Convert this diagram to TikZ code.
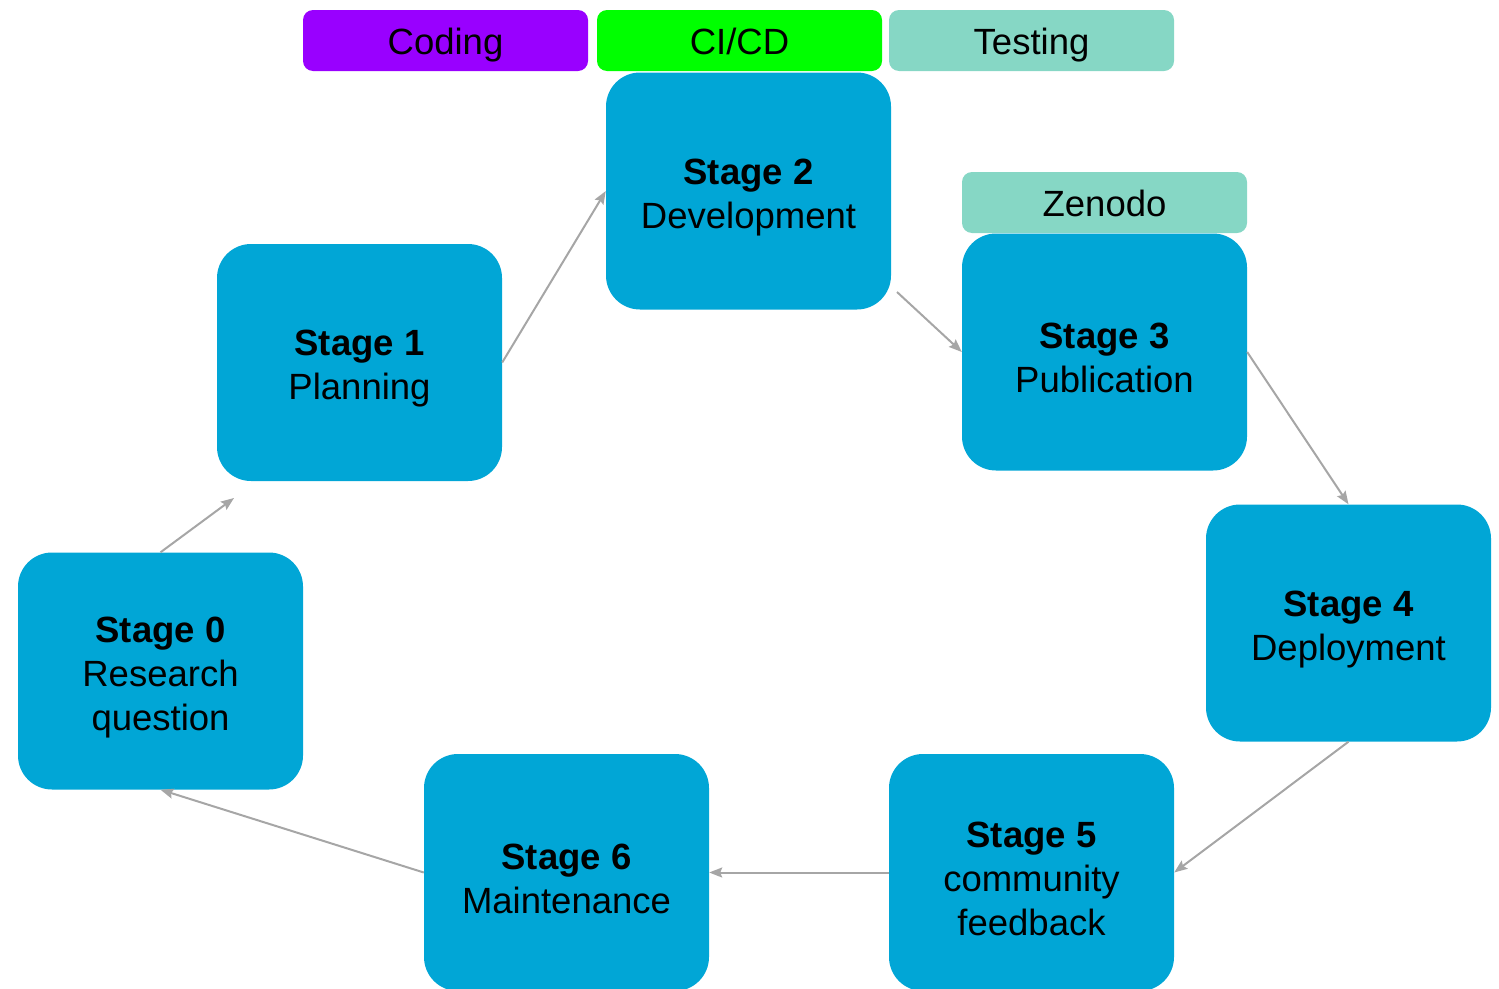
\documentclass[tikz,border=0pt]{standalone}
\usepackage{fontspec}
\setmainfont{Liberation Sans}
\usetikzlibrary{arrows.meta}
\definecolor{stageblue}{RGB}{1,166,214}
\definecolor{codingpurple}{RGB}{153,0,255}
\definecolor{cigreen}{RGB}{0,255,0}
\definecolor{testteal}{RGB}{134,215,197}
\definecolor{linkgray}{RGB}{166,166,166}
% bold stage heading with a tall strut that lowers the text block a little
\newcommand\stagehead[1]{\rule{0pt}{38pt}\textbf{Stage #1}}
\begin{document}
\begin{tikzpicture}[x=1pt,y=-1pt,
  stagebox/.style={fill=stageblue, rounded corners=34pt, minimum width=285pt,
    minimum height=237pt, inner sep=0pt, align=center,
    font=\fontsize{36.5}{44}\selectfont},
  tagbox/.style={rounded corners=10pt, minimum width=285pt, minimum height=61pt,
    inner sep=0pt, text height=27pt, text depth=0pt,
    font=\fontsize{36.5}{44}\selectfont},
  link/.style={draw=linkgray, line width=2pt,
    -{Stealth[length=13pt,width=10pt,inset=2pt]}}]
\clip (0,0) rectangle (1499,988);
\useasboundingbox (0,0) rectangle (1499,988);

% tool tags along the top
\node[tagbox, fill=codingpurple] (coding) at (445.5,40.5) {Coding};
\node[tagbox, fill=cigreen] (cicd) at (739.5,40.5) {CI/CD};
\node[tagbox, fill=testteal] (testing) at (1031.5,40.5) {Testing};
\node[tagbox, fill=testteal] (zenodo) at (1104.5,202.5) {Zenodo};

% life-cycle stages
\node[stagebox] (s0) at (160.5,671) {\stagehead{0}\\Research\\question};
\node[stagebox] (s1) at (359.5,362.5) {\stagehead{1}\\Planning};
\node[stagebox] (s2) at (748.5,191) {\stagehead{2}\\Development};
\node[stagebox] (s3) at (1104.5,352) {\stagehead{3}\\Publication};
\node[stagebox] (s4) at (1348.5,623) {\stagehead{4}\\Deployment};
\node[stagebox] (s5) at (1031.5,872.5) {\stagehead{5}\\community\\feedback};
\node[stagebox] (s6) at (566.5,872.5) {\stagehead{6}\\Maintenance};

% free ends of two connectors
\coordinate (p01) at (234,498);
\coordinate (p23) at (897,292);

% cycle connectors
\draw[link] (s0.north) -- (p01);
\draw[link] (s1.east) -- (s2.west);
\draw[link] (p23) -- (s3.west);
\draw[link] (s3.east) -- (s4.north);
\draw[link] (s4.south) -- (s5.east);
\draw[link] (s5.west) -- (s6.east);
\draw[link] (s6.west) -- (s0.south);
\end{tikzpicture}
\end{document}
